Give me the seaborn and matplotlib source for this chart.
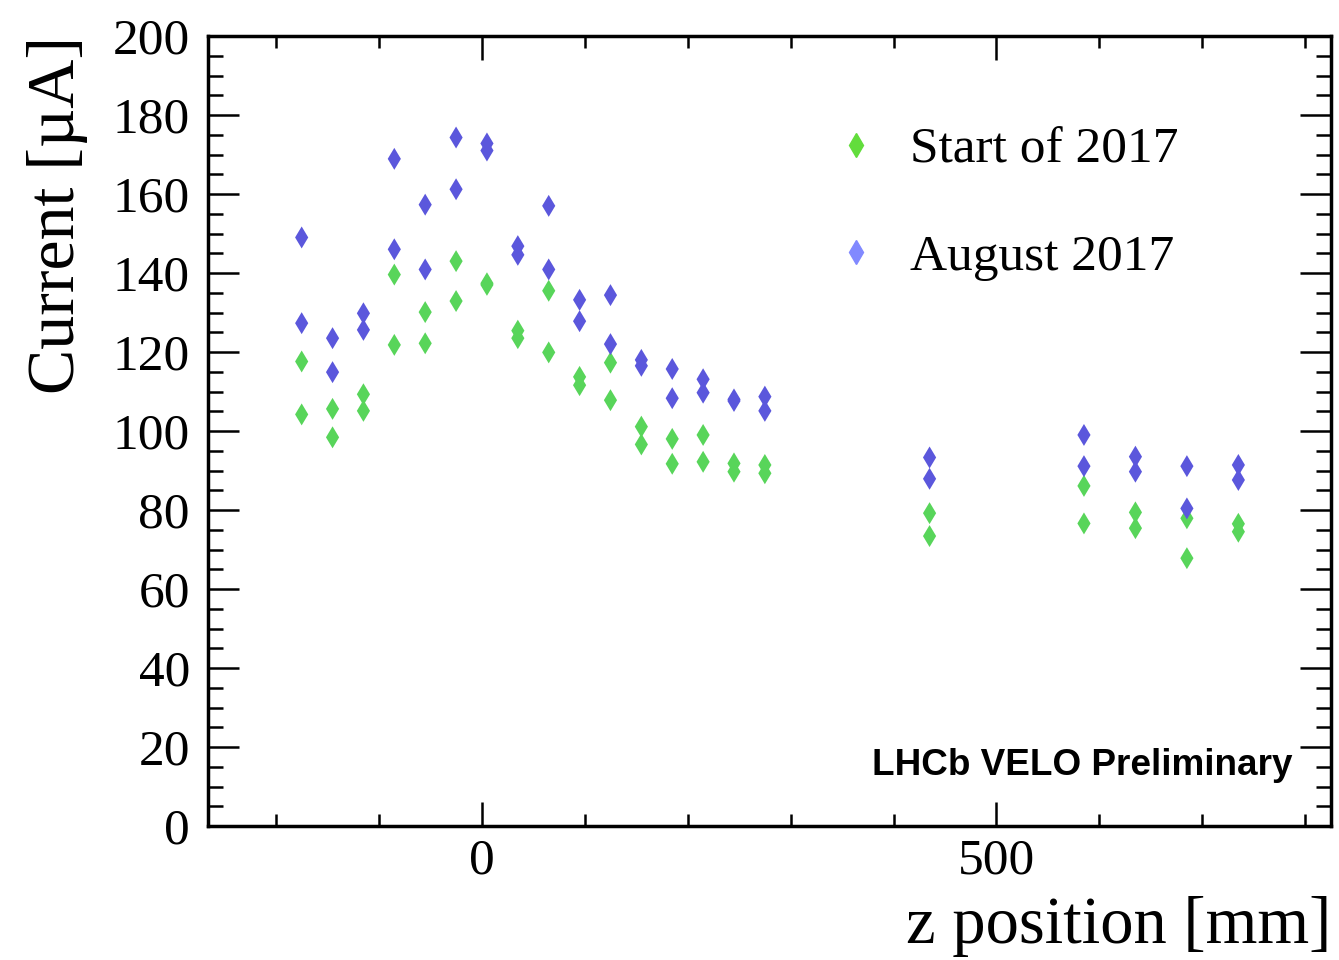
import numpy as np
import pandas as pd
import matplotlib
matplotlib.use("Agg")
import matplotlib.pyplot as plt
from matplotlib.ticker import MultipleLocator
from matplotlib.lines import Line2D
import seaborn as sns

# ---- data ----
z_pos = [-175, -145, -115, -85, -55, -25, 5, 35, 65, 95, 125, 155, 185, 215,
         245, 275, 435, 585, 635, 685, 735]
start_upper = [117.6, 105.6, 109.3, 139.6, 130.1, 143.0, 137.4, 125.4, 135.5, 113.7,
               117.3, 101.1, 98.0, 99.0, 91.8, 91.4, 79.2, 86.1, 79.4, 77.9, 76.5]
start_lower = [104.2, 98.4, 105.1, 121.8, 122.2, 132.9, 137.0, 123.5, 119.9, 111.6,
               107.8, 96.6, 91.7, 92.2, 89.7, 89.3, 73.4, 76.6, 75.4, 67.8, 74.5]
aug_upper = [149.0, 123.5, 129.8, 168.9, 157.3, 174.3, 172.8, 146.8, 157.0, 133.2,
             134.4, 118.0, 115.7, 113.1, 108.0, 108.7, 93.3, 99.0, 93.5, 91.1, 91.4]
aug_lower = [127.3, 114.9, 125.6, 146.0, 140.9, 161.2, 171.0, 144.6, 140.9, 127.8,
             122.0, 116.5, 108.3, 109.7, 107.6, 105.1, 87.9, 91.1, 89.7, 80.4, 87.6]
series_labels = ["Start of 2017", "August 2017"]

df = pd.DataFrame({
    "z": z_pos * 4,
    "current": start_upper + start_lower + aug_upper + aug_lower,
    "series": [series_labels[0]] * (2 * len(z_pos)) + [series_labels[1]] * (2 * len(z_pos)),
})

green = "#58d55a"
blue = "#5b57dc"
legend_green = "#62dd3c"
legend_blue = "#8189ff"

sns.set_theme(style="ticks")
plt.rcParams["font.family"] = ["Liberation Serif", "DejaVu Serif"]
plt.rcParams["text.color"] = "black"
plt.rcParams["axes.labelcolor"] = "black"
plt.rcParams["xtick.color"] = "black"
plt.rcParams["ytick.color"] = "black"
plt.rcParams["axes.edgecolor"] = "black"

fig = plt.figure(figsize=(13.39, 9.6), dpi=100)
ax = fig.add_axes([208 / 1339, 1 - 826 / 960, 1123 / 1339, 790 / 960])

sns.scatterplot(data=df, x="z", y="current", hue="series",
                palette={series_labels[0]: green, series_labels[1]: blue},
                hue_order=series_labels[::-1],
                marker="d", s=125, linewidth=0, legend=False, ax=ax, zorder=3)

ax.set_xlim(-266, 825)
ax.set_ylim(0, 200)

ax.xaxis.set_major_locator(MultipleLocator(500))
ax.xaxis.set_minor_locator(MultipleLocator(100))
ax.yaxis.set_major_locator(MultipleLocator(20))
ax.yaxis.set_minor_locator(MultipleLocator(5))

for sp in ax.spines.values():
    sp.set_linewidth(2.5)
    sp.set_color("black")
    sp.set_visible(True)

ax.tick_params(axis="both", which="both", direction="in", top=True, right=True,
               width=1.8, colors="black", labelsize=37)
ax.tick_params(axis="y", which="major", length=22, pad=13)
ax.tick_params(axis="y", which="minor", length=10.8)
ax.tick_params(axis="x", which="major", length=17, pad=9)
ax.tick_params(axis="x", which="minor", length=8.6)

ax.set_xlabel("z position [mm]", fontsize=48, loc="right", color="black")
ax.set_ylabel("Current [µA]", fontsize=49, loc="top", color="black")
ax.xaxis.set_label_coords(1.0, -0.088)
ax.yaxis.set_label_coords(-0.107, 1.0)

handles = [
    Line2D([], [], marker="d", color=legend_green, linestyle="none", markersize=12),
    Line2D([], [], marker="d", color=legend_blue, linestyle="none", markersize=12),
]
ax.legend(handles, series_labels, loc="upper left",
          bbox_to_anchor=((810 - 208) / 1123, (826 - 106) / 790),
          frameon=False, fontsize=37, handletextpad=0.55, labelspacing=1.18,
          handlelength=1.0, borderaxespad=0, labelcolor="black")

ax.text((1292 - 208) / 1123, (826 - 775) / 790, "LHCb VELO Preliminary",
        transform=ax.transAxes, ha="right", va="baseline", color="black",
        fontsize=26.6, fontweight="bold", family=["Liberation Sans", "DejaVu Sans"])

fig.savefig("out.png", dpi=100, facecolor="white")
